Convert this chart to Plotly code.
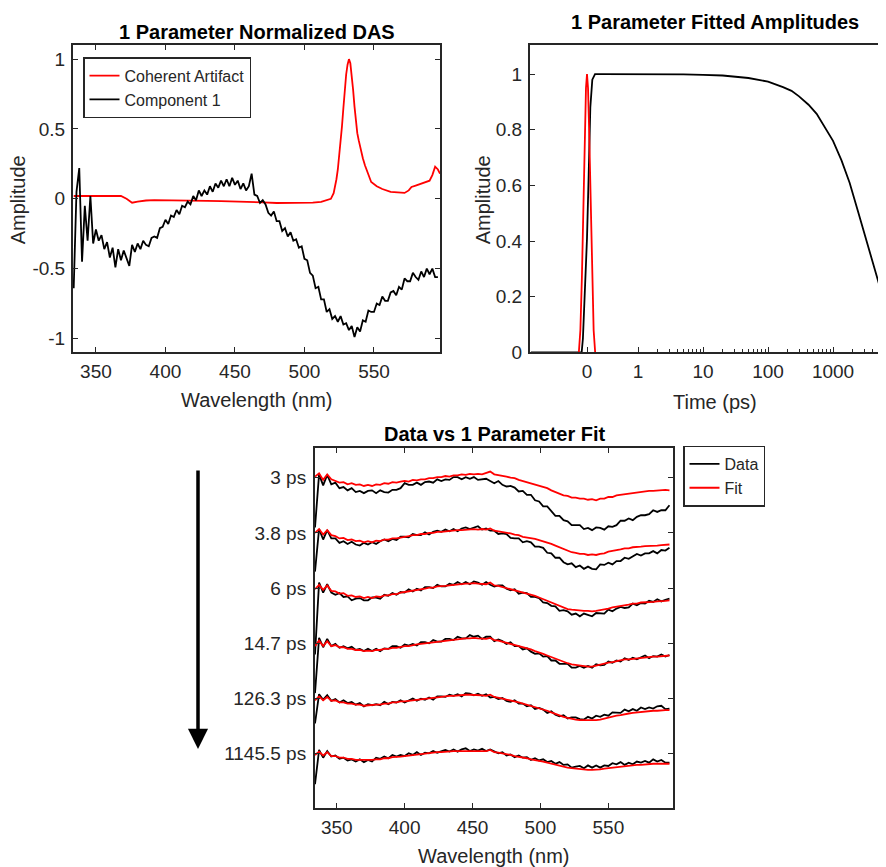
import math
import plotly.graph_objects as go

# ---------------- data: top-left (normalized DAS) ----------------
das_wavelength = list(range(334, 597, 2))  # nm
component1 = [
    -0.64, 0.05, 0.22, -0.45, -0.05, -0.30, 0.02, -0.32, -0.22, -0.30, -0.26,
    -0.36, -0.31, -0.42, -0.35, -0.49, -0.36, -0.44, -0.37, -0.43, -0.48, -0.33,
    -0.38, -0.32, -0.36, -0.30, -0.33, -0.34, -0.28, -0.27, -0.28, -0.21, -0.20,
    -0.15, -0.18, -0.12, -0.13, -0.08, -0.11, -0.05, -0.06, -0.02, -0.04, 0.02,
    -0.01, 0.06, 0.02, 0.06, 0.03, 0.09, 0.05, 0.11, 0.08, 0.13, 0.09,
    0.14, 0.09, 0.15, 0.10, 0.13, 0.07, 0.11, 0.06, 0.09, 0.18, 0.03,
    0.02, -0.03, -0.01, -0.04, -0.10, -0.12, -0.09, -0.16, -0.16, -0.23, -0.21,
    -0.27, -0.24, -0.30, -0.29, -0.35, -0.34, -0.43, -0.44, -0.53, -0.55, -0.64,
    -0.63, -0.72, -0.72, -0.81, -0.79, -0.86, -0.84, -0.88, -0.84, -0.90, -0.89,
    -0.94, -0.91, -0.99, -0.92, -0.95, -0.87, -0.88, -0.80, -0.81, -0.81, -0.75,
    -0.76, -0.70, -0.73, -0.73, -0.67, -0.66, -0.69, -0.63, -0.65, -0.57, -0.59,
    -0.59, -0.53, -0.56, -0.58, -0.52, -0.56, -0.50, -0.54, -0.50, -0.56, -0.56,
]
ca_wavelength = [334, 340, 346, 352, 358, 364, 368, 372, 376, 380, 386, 392, 400,
                 410, 420, 430, 440, 450, 460, 470, 480, 490, 500, 506, 512, 516,
                 519, 521, 522, 523, 524, 525, 526, 527, 528, 529, 530, 531, 532,
                 533, 534, 535, 536, 537, 538, 539, 540, 541, 542, 543.5, 546, 548,
                 552, 556, 562, 568, 572, 575, 577, 580, 584, 588, 590, 592, 594,
                 596, 597.5]
coherent_artifact = [0.02, 0.02, 0.025, 0.02, 0.02, 0.025, 0.02, 0.0, -0.028, -0.02,
                     -0.012, -0.01, -0.012, -0.015, -0.015, -0.015, -0.016, -0.018,
                     -0.02, -0.025, -0.03, -0.03, -0.03, -0.028, -0.022, -0.012,
                     0.0, 0.04, 0.08, 0.14, 0.21, 0.30, 0.40, 0.52, 0.65, 0.78, 0.89,
                     0.96, 1.0, 0.97, 0.89, 0.78, 0.66, 0.55, 0.47, 0.42, 0.37, 0.33,
                     0.29, 0.24, 0.17, 0.12, 0.09, 0.07, 0.05, 0.045, 0.042, 0.06,
                     0.085, 0.095, 0.108, 0.12, 0.13, 0.17, 0.23, 0.21, 0.18]

# ---------------- data: top-right (fitted amplitudes) ----------------
time_comp = [-1.1, -0.5, -0.2, -0.105, -0.08, -0.052, -0.025, 0.0, 0.033, 0.065,
             0.104, 0.157, 0.3, 0.6, 1, 2, 5, 10, 20, 50, 100, 170, 230, 300, 420,
             560, 750, 1000, 1350, 1800, 2400, 3300, 4400, 5900, 7000]
amp_comp = [0, 0, 0, 0, 0.05, 0.17, 0.29, 0.41, 0.64, 0.88, 0.98, 1.0, 1.0, 1.0,
            1.0, 0.9995, 0.999, 0.997, 0.995, 0.986, 0.973, 0.953, 0.94, 0.92,
            0.89, 0.857, 0.81, 0.76, 0.69, 0.61, 0.51, 0.40, 0.295, 0.195, 0.15]
time_ca = [-0.16, -0.13, -0.10, -0.07, -0.04, -0.02, 0.0, 0.02, 0.04, 0.07,
           0.10, 0.13, 0.16]
amp_ca = [0, 0.08, 0.27, 0.53, 0.81, 0.95, 1.0, 0.95, 0.81, 0.53, 0.27, 0.08, 0]
time_tick_values = [0, 1, 10, 100, 1000]
time_tick_labels = ["0", "1", "10", "100", "1000"]

# ---------------- data: bottom (data vs fit) ----------------
fit_wavelength = list(range(334, 596, 3))  # nm
delay_labels = ["3 ps", "3.8 ps", "6 ps", "14.7 ps", "126.3 ps", "1145.5 ps"]

data_3ps = [
    -0.90, 0.06, -0.14, 0.05, -0.12, -0.09, -0.19, -0.17, -0.23, -0.19, -0.26,
    -0.24, -0.28, -0.24, -0.23, -0.28, -0.23, -0.26, -0.27, -0.22, -0.22, -0.19,
    -0.10, -0.13, -0.13, -0.09, -0.13, -0.08, -0.07, -0.09, -0.03, -0.06, -0.03,
    -0.04, 0.01, 0.01, -0.03, 0.01, -0.02, 0.01, -0.04, -0.03, -0.02, -0.06,
    -0.10, -0.06, -0.13, -0.16, -0.15, -0.18, -0.25, -0.24, -0.31, -0.31, -0.41,
    -0.43, -0.52, -0.52, -0.61, -0.69, -0.69, -0.77, -0.79, -0.86, -0.86, -0.86,
    -0.93, -0.91, -0.95, -0.90, -0.91, -0.94, -0.88, -0.89, -0.86, -0.78, -0.78,
    -0.74, -0.77, -0.71, -0.68, -0.68, -0.66, -0.59, -0.62, -0.59, -0.59, -0.50,
]
fit_3ps = [
    0.02, 0.08, -0.04, 0.06, -0.03, -0.06, -0.09, -0.08, -0.12, -0.10, -0.13,
    -0.12, -0.15, -0.13, -0.15, -0.12, -0.13, -0.10, -0.11, -0.08, -0.09, -0.07,
    -0.06, -0.07, -0.04, -0.05, -0.03, -0.03, -0.01, -0.01, 0.01, 0.01, 0.03,
    0.02, 0.04, 0.04, 0.06, 0.05, 0.07, 0.06, 0.07, 0.06, 0.08, 0.11,
    0.06, 0.05, 0.03, 0.02, 0.00, -0.01, -0.04, -0.06, -0.08, -0.11, -0.12,
    -0.14, -0.17, -0.19, -0.23, -0.26, -0.28, -0.32, -0.33, -0.36, -0.36, -0.38,
    -0.38, -0.40, -0.39, -0.41, -0.38, -0.38, -0.35, -0.35, -0.32, -0.31, -0.29,
    -0.29, -0.27, -0.27, -0.25, -0.25, -0.24, -0.24, -0.23, -0.23, -0.22, -0.23,
]
data_3_8ps = [
    -0.70, 0.07, -0.12, 0.05, -0.10, -0.10, -0.18, -0.15, -0.20, -0.16, -0.21,
    -0.23, -0.18, -0.21, -0.17, -0.20, -0.15, -0.12, -0.15, -0.11, -0.13, -0.07,
    -0.07, -0.08, -0.02, -0.04, -0.04, 0.01, -0.03, 0.02, 0.04, 0.02, 0.06,
    0.03, 0.07, 0.03, 0.08, 0.10, 0.07, 0.10, 0.12, 0.06, 0.08, 0.04,
    0.04, -0.02, -0.01, -0.02, -0.09, -0.10, -0.10, -0.17, -0.15, -0.17, -0.25,
    -0.25, -0.27, -0.36, -0.37, -0.45, -0.45, -0.53, -0.57, -0.55, -0.62, -0.59,
    -0.65, -0.61, -0.65, -0.66, -0.57, -0.58, -0.54, -0.57, -0.51, -0.51, -0.45,
    -0.47, -0.42, -0.38, -0.41, -0.37, -0.37, -0.33, -0.37, -0.31, -0.32, -0.27,
]
fit_3_8ps = [
    0.00, 0.07, -0.03, 0.05, -0.04, -0.06, -0.10, -0.09, -0.13, -0.12, -0.15,
    -0.14, -0.17, -0.15, -0.17, -0.14, -0.15, -0.12, -0.12, -0.10, -0.10, -0.08,
    -0.07, -0.06, -0.04, -0.04, -0.02, -0.02, 0.00, 0.00, 0.02, 0.02, 0.03,
    0.03, 0.04, 0.05, 0.05, 0.06, 0.06, 0.07, 0.06, 0.07, 0.06, 0.08,
    0.04, 0.03, 0.02, 0.00, -0.01, -0.03, -0.04, -0.07, -0.08, -0.10, -0.11,
    -0.13, -0.15, -0.17, -0.20, -0.23, -0.26, -0.30, -0.32, -0.35, -0.36, -0.38,
    -0.38, -0.40, -0.39, -0.40, -0.38, -0.37, -0.34, -0.33, -0.31, -0.30, -0.28,
    -0.28, -0.26, -0.26, -0.25, -0.24, -0.24, -0.23, -0.23, -0.22, -0.22, -0.21,
]
data_6ps = [
    -1.20, 0.10, -0.08, 0.07, -0.08, -0.12, -0.09, -0.16, -0.15, -0.22, -0.19,
    -0.18, -0.22, -0.22, -0.17, -0.17, -0.19, -0.12, -0.14, -0.09, -0.12, -0.07,
    -0.08, -0.02, -0.06, -0.01, -0.04, 0.02, 0.02, 0.00, 0.06, 0.03, 0.03,
    0.08, 0.06, 0.11, 0.07, 0.11, 0.07, 0.12, 0.10, 0.06, 0.11, 0.06,
    0.03, 0.05, 0.05, -0.01, -0.04, -0.02, -0.10, -0.08, -0.09, -0.16, -0.16,
    -0.18, -0.26, -0.27, -0.32, -0.33, -0.41, -0.40, -0.42, -0.48, -0.46, -0.51,
    -0.46, -0.49, -0.51, -0.45, -0.45, -0.46, -0.39, -0.42, -0.37, -0.34, -0.36,
    -0.35, -0.28, -0.31, -0.27, -0.28, -0.23, -0.25, -0.20, -0.24, -0.21, -0.19,
]
fit_6ps = [
    -0.02, 0.06, -0.03, 0.05, -0.05, -0.06, -0.10, -0.09, -0.14, -0.13, -0.16,
    -0.15, -0.18, -0.16, -0.18, -0.15, -0.16, -0.13, -0.13, -0.11, -0.11, -0.08,
    -0.07, -0.06, -0.04, -0.03, -0.02, -0.01, 0.01, 0.01, 0.03, 0.03, 0.04,
    0.05, 0.06, 0.07, 0.07, 0.08, 0.08, 0.09, 0.08, 0.08, 0.07, 0.10,
    0.05, 0.04, 0.02, 0.01, -0.01, -0.03, -0.05, -0.08, -0.10, -0.12, -0.14,
    -0.17, -0.20, -0.23, -0.26, -0.30, -0.33, -0.36, -0.38, -0.39, -0.40, -0.41,
    -0.41, -0.41, -0.42, -0.41, -0.40, -0.38, -0.37, -0.35, -0.34, -0.32, -0.31,
    -0.30, -0.28, -0.28, -0.26, -0.26, -0.25, -0.25, -0.24, -0.24, -0.23, -0.22,
]
data_14_7ps = [
    -0.90, 0.10, -0.07, 0.08, -0.05, -0.01, -0.08, -0.05, -0.09, -0.06, -0.12,
    -0.10, -0.14, -0.10, -0.14, -0.10, -0.14, -0.09, -0.10, -0.05, -0.05, -0.08,
    -0.02, -0.04, -0.01, -0.04, 0.02, 0.02, 0.00, 0.06, 0.03, 0.03, 0.08,
    0.08, 0.06, 0.12, 0.09, 0.09, 0.15, 0.12, 0.14, 0.08, 0.12, 0.12,
    0.04, 0.07, 0.04, -0.01, 0.02, -0.05, -0.05, -0.11, -0.09, -0.15, -0.19,
    -0.18, -0.24, -0.23, -0.31, -0.31, -0.37, -0.37, -0.37, -0.44, -0.44, -0.41,
    -0.44, -0.41, -0.44, -0.38, -0.40, -0.39, -0.33, -0.35, -0.31, -0.33, -0.27,
    -0.30, -0.26, -0.29, -0.25, -0.22, -0.27, -0.23, -0.24, -0.20, -0.24, -0.21,
]
fit_14_7ps = [
    -0.05, 0.05, -0.05, 0.04, -0.05, -0.03, -0.07, -0.07, -0.10, -0.10, -0.12,
    -0.12, -0.14, -0.13, -0.14, -0.12, -0.12, -0.10, -0.10, -0.08, -0.08, -0.06,
    -0.05, -0.05, -0.03, -0.02, -0.01, 0.00, 0.01, 0.02, 0.03, 0.04, 0.05,
    0.06, 0.07, 0.08, 0.08, 0.09, 0.09, 0.10, 0.09, 0.09, 0.08, 0.10,
    0.06, 0.05, 0.03, 0.01, 0.00, -0.02, -0.04, -0.07, -0.09, -0.11, -0.14,
    -0.16, -0.19, -0.22, -0.25, -0.28, -0.31, -0.34, -0.36, -0.38, -0.39, -0.41,
    -0.41, -0.42, -0.42, -0.40, -0.39, -0.37, -0.35, -0.34, -0.32, -0.31, -0.29,
    -0.29, -0.28, -0.27, -0.26, -0.25, -0.25, -0.24, -0.24, -0.23, -0.23, -0.22,
]
data_126_3ps = [
    -0.45, 0.08, -0.02, 0.06, -0.04, -0.01, -0.07, -0.03, -0.08, -0.06, -0.11,
    -0.08, -0.14, -0.10, -0.12, -0.10, -0.12, -0.06, -0.10, -0.06, -0.07, -0.03,
    -0.07, -0.03, 0.00, -0.04, 0.00, -0.02, 0.02, -0.02, 0.04, 0.04, 0.03,
    0.07, 0.05, 0.08, 0.04, 0.10, 0.09, 0.06, 0.09, 0.05, 0.08, 0.02,
    0.03, -0.01, 0.01, -0.04, -0.06, -0.03, -0.09, -0.09, -0.14, -0.12, -0.19,
    -0.17, -0.20, -0.26, -0.23, -0.29, -0.32, -0.30, -0.36, -0.34, -0.34, -0.37,
    -0.38, -0.33, -0.36, -0.31, -0.33, -0.29, -0.31, -0.25, -0.25, -0.26, -0.20,
    -0.23, -0.19, -0.22, -0.16, -0.19, -0.16, -0.18, -0.14, -0.13, -0.19, -0.18,
]
fit_126_3ps = [
    -0.03, 0.04, -0.03, 0.03, -0.04, -0.03, -0.07, -0.07, -0.09, -0.09, -0.11,
    -0.11, -0.13, -0.12, -0.12, -0.11, -0.11, -0.09, -0.09, -0.07, -0.07, -0.05,
    -0.05, -0.04, -0.03, -0.02, -0.01, 0.00, 0.01, 0.02, 0.02, 0.03, 0.04,
    0.05, 0.05, 0.06, 0.06, 0.07, 0.07, 0.07, 0.06, 0.06, 0.05, 0.07,
    0.03, 0.02, 0.00, -0.02, -0.03, -0.05, -0.07, -0.09, -0.11, -0.13, -0.15,
    -0.17, -0.19, -0.22, -0.25, -0.28, -0.30, -0.33, -0.35, -0.37, -0.38, -0.39,
    -0.39, -0.40, -0.40, -0.39, -0.38, -0.36, -0.34, -0.33, -0.31, -0.30, -0.28,
    -0.27, -0.26, -0.25, -0.24, -0.23, -0.23, -0.22, -0.22, -0.21, -0.21, -0.21,
]
data_1145_5ps = [
    -0.55, 0.07, -0.07, 0.05, -0.05, -0.03, -0.09, -0.07, -0.12, -0.10, -0.14,
    -0.10, -0.15, -0.11, -0.14, -0.07, -0.09, -0.05, -0.08, -0.02, -0.05, -0.02,
    -0.04, 0.01, -0.02, 0.03, -0.02, 0.02, 0.01, 0.05, 0.02, 0.05, 0.07,
    0.04, 0.08, 0.04, 0.08, 0.10, 0.05, 0.08, 0.06, 0.09, 0.05, 0.08,
    0.05, 0.01, 0.03, -0.03, -0.01, -0.06, -0.03, -0.07, -0.06, -0.11, -0.08,
    -0.12, -0.10, -0.15, -0.13, -0.18, -0.15, -0.20, -0.19, -0.25, -0.23, -0.22,
    -0.26, -0.21, -0.25, -0.21, -0.25, -0.21, -0.22, -0.17, -0.19, -0.15, -0.20,
    -0.16, -0.19, -0.14, -0.16, -0.13, -0.16, -0.10, -0.14, -0.11, -0.16, -0.16,
]
fit_1145_5ps = [
    -0.02, 0.04, -0.03, 0.03, -0.04, -0.04, -0.07, -0.07, -0.09, -0.09, -0.11,
    -0.11, -0.12, -0.11, -0.11, -0.10, -0.10, -0.08, -0.08, -0.06, -0.06, -0.05,
    -0.04, -0.03, -0.02, -0.01, 0.00, 0.01, 0.01, 0.02, 0.03, 0.03, 0.04,
    0.04, 0.05, 0.05, 0.05, 0.06, 0.06, 0.06, 0.06, 0.06, 0.05, 0.07,
    0.03, 0.02, 0.01, -0.01, -0.02, -0.04, -0.05, -0.07, -0.08, -0.10, -0.11,
    -0.13, -0.14, -0.16, -0.18, -0.20, -0.22, -0.24, -0.25, -0.26, -0.27, -0.28,
    -0.28, -0.29, -0.29, -0.29, -0.28, -0.27, -0.26, -0.25, -0.24, -0.23, -0.22,
    -0.21, -0.21, -0.20, -0.20, -0.19, -0.19, -0.18, -0.18, -0.18, -0.17, -0.18,
]
data_traces = [data_3ps, data_3_8ps, data_6ps, data_14_7ps, data_126_3ps, data_1145_5ps]
fit_traces = [fit_3ps, fit_3_8ps, fit_6ps, fit_14_7ps, fit_126_3ps, fit_1145_5ps]

# ---------------- styling ----------------
OFF = 8            # default page body margin
KY = 879 / 867     # vertical correction for how the page is photographed
W, H = 878, 872
FONT = "Liberation Sans"
AX = "#262626"
RED = "#FF0000"
BLACK = "#000000"
LW = 1.8


def px_x(p):
    return (p - OFF) / W


def px_y(p):
    return 1 - (p * KY - OFF) / H


LIN_W = 0.785  # width of the linear 0..1 ps segment, in decades


def time_axis(t):
    return LIN_W * t if t <= 1 else LIN_W + math.log10(t)


fig = go.Figure()

# top-left
fig.add_trace(go.Scatter(x=ca_wavelength, y=coherent_artifact, mode="lines",
                         line=dict(color=RED, width=LW), name="Coherent Artifact",
                         xaxis="x", yaxis="y", legend="legend"))
fig.add_trace(go.Scatter(x=das_wavelength, y=component1, mode="lines",
                         line=dict(color=BLACK, width=LW), name="Component 1",
                         xaxis="x", yaxis="y", legend="legend"))

# top-right
fig.add_trace(go.Scatter(x=[time_axis(t) for t in time_comp], y=amp_comp, mode="lines",
                         line=dict(color=BLACK, width=LW), showlegend=False,
                         xaxis="x2", yaxis="y2"))
fig.add_trace(go.Scatter(x=[time_axis(t) for t in time_ca], y=amp_ca, mode="lines",
                         line=dict(color=RED, width=LW), showlegend=False,
                         xaxis="x2", yaxis="y2"))

# bottom
for i, d in enumerate(data_traces):
    fig.add_trace(go.Scatter(x=fit_wavelength, y=[v - i for v in d], mode="lines",
                             line=dict(color=BLACK, width=LW), name="Data",
                             legendgroup="data", showlegend=(i == 0),
                             xaxis="x3", yaxis="y3", legend="legend2"))
for i, f in enumerate(fit_traces):
    fig.add_trace(go.Scatter(x=fit_wavelength, y=[v - i for v in f], mode="lines",
                             line=dict(color=RED, width=LW), name="Fit",
                             legendgroup="fit", showlegend=(i == 0),
                             xaxis="x3", yaxis="y3", legend="legend2"))

tickfont = dict(family=FONT, size=19, color=AX)
common = dict(showgrid=False, zeroline=False, showline=True, linecolor=AX, linewidth=2,
              ticks="inside", ticklen=5, tickcolor=AX, tickwidth=1, tickfont=tickfont)

minor_time = [time_axis(m * 10 ** e) for e in range(0, 4) for m in range(2, 10)
              if m * 10 ** e < 7000]

fig.update_layout(
    width=W, height=H, margin=dict(l=0, r=0, t=0, b=0),
    paper_bgcolor="white", plot_bgcolor="white",
    font=dict(family=FONT, color=AX),
    xaxis=dict(domain=[px_x(73), px_x(440)], range=[333.5, 597.5],
               tickvals=[350, 400, 450, 500, 550], mirror="ticks",
               ticklabelstandoff=1, anchor="y", **common),
    yaxis=dict(domain=[px_y(352), px_y(45)], range=[-1.1, 1.1],
               tickvals=[-1, -0.5, 0, 0.5, 1], ticktext=["-1", "-0.5", "0", "0.5", "1"],
               mirror="ticks", anchor="x", ticklabelstandoff=2, **common),
    xaxis2=dict(domain=[px_x(530), 1.0], range=[-0.877, 4.6],
                tickvals=[time_axis(t) for t in time_tick_values], ticktext=time_tick_labels,
                mirror=True, ticklabelstandoff=1, anchor="y2",
                minor=dict(tickvals=minor_time, ticks="inside", ticklen=3,
                           tickcolor=AX, showgrid=False),
                **common),
    yaxis2=dict(domain=[px_y(352), px_y(45)], range=[0, 1.104],
                tickvals=[0, 0.2, 0.4, 0.6, 0.8, 1],
                ticktext=["0", "0.2", "0.4", "0.6", "0.8", "1"], anchor="x2",
                ticklabelstandoff=2, **common),
    xaxis3=dict(domain=[px_x(315), px_x(673)], range=[334, 597.6],
                tickvals=[350, 400, 450, 500, 550], mirror="ticks",
                ticklabelstandoff=1, anchor="y3", **common),
    yaxis3=dict(domain=[px_y(807), px_y(447)], range=[-5.98, 0.545],
                tickvals=[0, -1, -2, -3, -4, -5], ticktext=delay_labels,
                mirror="ticks", anchor="x3", ticklabelstandoff=3, **common),
    legend=dict(x=px_x(83), y=px_y(57), xanchor="left", yanchor="top",
                bordercolor=AX, borderwidth=1.5, bgcolor="white",
                font=dict(family=FONT, size=16, color=AX), tracegroupgap=0),
    legend2=dict(x=px_x(683), y=px_y(445), xanchor="left", yanchor="top",
                 bordercolor=AX, borderwidth=1.5, bgcolor="white",
                 font=dict(family=FONT, size=16, color=AX), tracegroupgap=0),
    showlegend=True,
)

titles = [
    ("<b>1 Parameter Normalized DAS</b>", 256.5, 32, 0, BLACK),
    ("<b>1 Parameter Fitted Amplitudes</b>", 715, 22, 0, BLACK),
    ("<b>Data vs 1 Parameter Fit</b>", 495, 433, 0, BLACK),
    ("Wavelength (nm)", 256.5, 399, 0, AX),
    ("Amplitude", 18, 200, -90, AX),
    ("Amplitude", 483, 199, -90, AX),
    ("Time (ps)", 715, 401, 0, AX),
    ("Wavelength (nm)", 494, 855, 0, AX),
]
for text, x, y, ang, col in titles:
    fig.add_annotation(text=text, x=px_x(x), y=px_y(y), xref="paper", yref="paper",
                       xanchor="center", yanchor="middle", showarrow=False, textangle=ang,
                       font=dict(family=FONT, size=20, color=col))

# time-order arrow
fig.add_annotation(x=px_x(198), y=px_y(748), xref="paper", yref="paper", text="",
                   showarrow=True, ax=0, ay=-276 * KY, arrowhead=2, arrowwidth=3.5,
                   arrowsize=1.15, arrowcolor=BLACK, standoff=0)

fig.write_html("out.html", config={"displayModeBar": False})
